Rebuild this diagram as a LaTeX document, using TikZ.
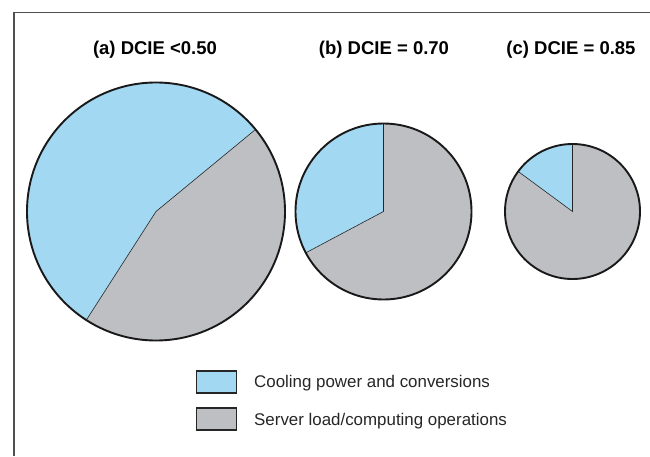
\documentclass[tikz,border=0pt]{standalone}
\usepackage{fontspec}
\setmainfont{Liberation Sans}
\definecolor{coolblue}{RGB}{163,216,242}
\definecolor{loadgray}{RGB}{190,191,195}
\definecolor{framegray}{RGB}{80,80,80}
\tikzset{
  coolpart/.style={fill=coolblue},
  loadpart/.style={fill=loadgray},
  divider/.style={draw=black!85, line width=0.6pt},
  rim/.style={draw=black!90, line width=1.9pt},
  title/.style={font=\bfseries\fontsize{18.5}{20}\selectfont, anchor=base, inner sep=0pt},
  legtext/.style={font=\fontsize{16.9}{19}\selectfont, anchor=base west, inner sep=0pt, text=black!85},
  legbox/.style={draw=black!85, line width=1.6pt, minimum width=40pt, minimum height=22pt, inner sep=0pt},
}
% one pie: centre, radius, start and end angle of the cooling slice
\newcommand{\twopie}[4]{%
  \fill[loadpart] (#1) circle[radius=#2];
  \fill[coolpart] (#1) -- ++(#3:#2) arc[start angle=#3, end angle=#4, radius=#2] -- cycle;
  \draw[divider] ($(#1)+(#3:#2)$) -- (#1) -- ($(#1)+(#4:#2)$);
  \draw[rim] (#1) circle[radius=#2];
}
\usetikzlibrary{calc}
\begin{document}
\begin{tikzpicture}[x=1pt, y=1pt]
  \useasboundingbox (0,0) rectangle (650,456);
  % frame lines along the top and left
  \draw[framegray, line width=1.4pt] (650,443.6) -- (14,443.6) -- (14,0);

  \coordinate (pa) at (156,244.5);
  \coordinate (pb) at (383.5,244.5);
  \coordinate (pc) at (572.5,244.5);

  \twopie{pa}{129}{39.5}{237.3}
  \twopie{pb}{88}{90}{208}
  \twopie{pc}{67.5}{90}{143.6}

  \node[title] (ta) at (155,401) {(a) DCIE <0.50};
  \node[title] (tb) at (384,401) {(b) DCIE = 0.70};
  \node[title] (tc) at (571,401) {(c) DCIE = 0.85};

  % legend
  \node[legbox, fill=coolblue] (k1) at (216.5,74.3) {};
  \node[legbox, fill=loadgray] (k2) at (216.5,36.8) {};
  \node[legtext] (l1) at (254,68.2) {Cooling power and conversions};
  \node[legtext] (l2) at (254,30.7) {Server load/computing operations};
\end{tikzpicture}
\end{document}
